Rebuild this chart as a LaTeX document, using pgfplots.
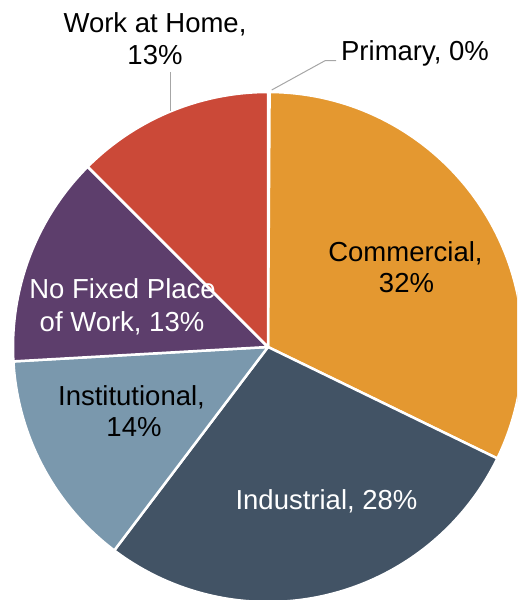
\documentclass[border=0pt]{standalone}
\usepackage{pgfplots}
\pgfplotsset{compat=1.18}
\usepackage{pgfplotstable}
\usepackage{etoolbox}
\usepackage{fontspec}
\setmainfont{Liberation Sans}

\definecolor{cPrim}{HTML}{E6E6E6}
\definecolor{cCom}{HTML}{E49830}
\definecolor{cInd}{HTML}{425365}
\definecolor{cIns}{HTML}{7A98AD}
\definecolor{cNoF}{HTML}{5D3E6C}
\definecolor{cWah}{HTML}{CB4938}
\definecolor{leader}{HTML}{A6A6A6}

% shares in percent, clockwise from 12 o'clock
\pgfplotstableread{
name value col
Primary 0.1 cPrim
Commercial 32.1 cCom
Industrial 28.1 cInd
Institutional 13.8 cIns
NoFixed 13.4 cNoF
WorkAtHome 12.5 cWah
}\piedata

% build the slice paths once, so the axis only has to replay them
\def\pieCmds{}
\def\angstart{90}
\pgfplotsforeachungrouped \i in {0,...,5}{%
  \pgfplotstablegetelem{\i}{value}\of\piedata \let\sliceval\pgfplotsretval
  \pgfplotstablegetelem{\i}{col}\of\piedata \let\slicecol\pgfplotsretval
  \pgfmathsetmacro\angend{\angstart-3.6*\sliceval}%
  \xappto\pieCmds{\noexpand\fill[\slicecol,draw=white,line width=2.5pt,line join=round]
    (axis cs:268,253) -- ++(\angstart:255pt)
    arc[start angle=\angstart,end angle=\angend,radius=255pt] -- cycle;}%
  \let\angstart\angend
}

\tikzset{lbl/.style={anchor=base,inner sep=0pt,font=\fontsize{27.5}{33}\selectfont}}

\begin{document}
\begin{tikzpicture}
\begin{axis}[
  hide axis, scale only axis,
  width=517pt, height=600pt,
  xmin=0, xmax=517, ymin=0, ymax=600,
  clip=true
]
\path (axis cs:0,0) rectangle (axis cs:517,600);
\pieCmds
% leader lines
\draw[leader, line width=1pt] (axis cs:170.7,528) -- (axis cs:170.7,489);
\draw[leader, line width=1pt] (axis cs:271.7,510) -- (axis cs:325,539.3) -- (axis cs:336,539.3);
% labels
\node[lbl] at (axis cs:155,567) {Work at Home,};
\node[lbl] at (axis cs:155,535) {13\%};
\node[lbl] at (axis cs:415,539.3) {Primary, 0\%};
\node[lbl] at (axis cs:405.5,338) {Commercial,};
\node[lbl] at (axis cs:406.5,307) {32\%};
\node[lbl, white] at (axis cs:326.5,90) {Industrial, 28\%};
\node[lbl] at (axis cs:131.5,194) {Institutional,};
\node[lbl] at (axis cs:134,163.3) {14\%};
\node[lbl, white] at (axis cs:122.5,301) {No Fixed Place};
\node[lbl, white] at (axis cs:122,268.3) {of Work, 13\%};
\end{axis}
\end{tikzpicture}
\end{document}
